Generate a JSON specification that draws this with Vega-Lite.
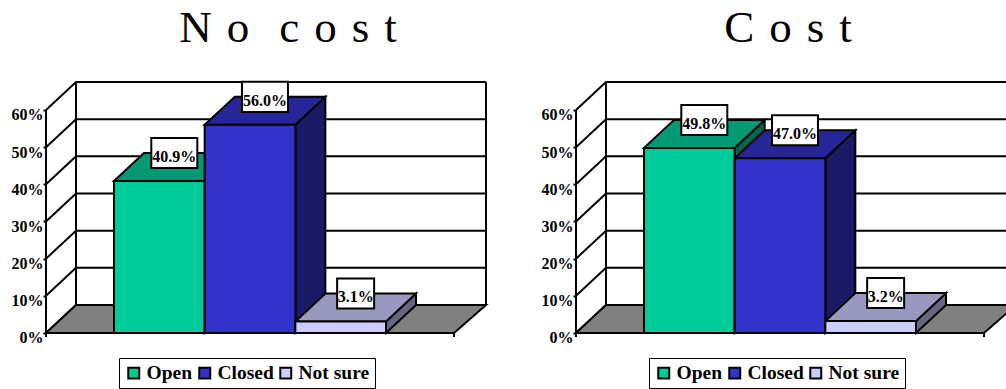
{
  "$schema": "https://vega.github.io/schema/vega-lite/v6.json",
  "padding": {"left": 11, "top": 0, "right": 0, "bottom": 0},
  "background": "white",
  "config": {"view": {"stroke": null}},
  "data": {"values": [
    {"panel": "No cost", "response": "Open", "share": 0.409},
    {"panel": "No cost", "response": "Closed", "share": 0.56},
    {"panel": "No cost", "response": "Not sure", "share": 0.031},
    {"panel": "Cost", "response": "Open", "share": 0.498},
    {"panel": "Cost", "response": "Closed", "share": 0.47},
    {"panel": "Cost", "response": "Not sure", "share": 0.032}
  ]},
  "transform": [
    {"calculate": "{'Open':0,'Closed':1,'Not sure':2}[datum.response]", "as": "slot"},
    {"calculate": "68+datum.slot*90.67", "as": "x0"},
    {"calculate": "datum.x0+90.67", "as": "x1"},
    {"calculate": "datum.x0+45.3+15", "as": "xc"},
    {"calculate": "datum.share+0.0753", "as": "labelY"},
    {"calculate": "datum.share>0.1?23:18.5", "as": "boxHalf"},
    {"calculate": "{'Open':'#009973','Closed':'#262699','Not sure':'#9999bf'}[datum.response]", "as": "topColor"},
    {"calculate": "{'Open':'#00664d','Closed':'#1a1a66','Not sure':'#666680'}[datum.response]", "as": "sideColor"}
  ],
  "facet": {"column": {"field": "panel", "type": "nominal", "sort": ["No cost", "Cost"], "header": null}},
  "spacing": 70,
  "bounds": "flush",
  "resolve": {"axis": {"y": "independent"}, "legend": {"fill": "independent"}},
  "spec": {
    "width": 460,
    "height": 389,
    "layer": [
      {
        "data": {"values": [{"level": 0}, {"level": 0.1}, {"level": 0.2}, {"level": 0.3}, {"level": 0.4}, {"level": 0.5}, {"level": 0.6}]},
        "transform": [
          {"calculate": "[0,1,2]", "as": "t"},
          {"flatten": ["t"]},
          {"calculate": "[0,30,440][datum.t]", "as": "wx"},
          {"calculate": "datum.t==0?datum.level:datum.level+0.0753", "as": "wy"}
        ],
        "mark": {"type": "line", "color": "black", "strokeWidth": 2, "strokeJoin": "miter"},
        "encoding": {
          "x": {"field": "wx", "type": "quantitative", "scale": {"domain": [0, 460], "nice": false, "zero": false}, "axis": null},
          "y": {
            "field": "wy", "type": "quantitative",
            "scale": {"domain": [-0.1507, 0.8959], "nice": false, "zero": false},
            "axis": {
              "values": [0, 0.1, 0.2, 0.3, 0.4, 0.5, 0.6], "format": ".0%", "title": null, "grid": false, "domain": false,
              "labelFont": "Liberation Serif", "labelFontWeight": "bold", "labelFontSize": 16, "labelColor": "black",
              "labelPadding": 0, "labelOffset": 5, "tickColor": "black", "tickWidth": 2, "tickSize": 3
            }
          },
          "detail": {"field": "level"}
        }
      },
      {
        "data": {"values": [{"edge": "front"}, {"edge": "back"}, {"edge": "right"}]},
        "transform": [
          {"calculate": "{'front':0,'back':30,'right':440}[datum.edge]", "as": "ex"},
          {"calculate": "datum.edge=='front'?0:0.0753", "as": "ey"},
          {"calculate": "datum.ey+0.6", "as": "ey2"}
        ],
        "mark": {"type": "rule", "color": "black", "strokeWidth": 2},
        "encoding": {
          "x": {"field": "ex", "type": "quantitative", "axis": null},
          "y": {"field": "ey", "type": "quantitative"},
          "y2": {"field": "ey2"}
        }
      },
      {
        "data": {"values": [{"t": 0}, {"t": 1}]},
        "transform": [
          {"calculate": "datum.t*30", "as": "fa"},
          {"calculate": "408+datum.t*32", "as": "fb"},
          {"calculate": "datum.t*0.0753", "as": "fy"}
        ],
        "mark": {"type": "area", "orient": "horizontal", "fill": "#808080", "stroke": "black", "strokeWidth": 2},
        "encoding": {
          "y": {"field": "fy", "type": "quantitative"},
          "x": {"field": "fa", "type": "quantitative", "axis": null},
          "x2": {"field": "fb"}
        }
      },
      {
        "data": {"values": [{"at": 0}, {"at": 408}]},
        "mark": {"type": "rule", "color": "black", "strokeWidth": 2},
        "encoding": {
          "x": {"field": "at", "type": "quantitative", "axis": null},
          "y": {"datum": 0},
          "y2": {"datum": -0.011}
        }
      },
      {
        "transform": [
          {"calculate": "[0,1]", "as": "t"},
          {"flatten": ["t"]},
          {"calculate": "datum.x1+datum.t*30", "as": "sx"},
          {"calculate": "datum.t*0.0753", "as": "sb"},
          {"calculate": "datum.share+datum.t*0.0753", "as": "st"}
        ],
        "mark": {"type": "area", "orient": "vertical", "stroke": "black", "strokeWidth": 2},
        "encoding": {
          "x": {"field": "sx", "type": "quantitative", "axis": null},
          "y": {"field": "st", "type": "quantitative"},
          "y2": {"field": "sb"},
          "color": {"field": "sideColor", "type": "nominal", "scale": null, "legend": null}
        }
      },
      {
        "transform": [
          {"calculate": "[0,1]", "as": "t"},
          {"flatten": ["t"]},
          {"calculate": "datum.x0+datum.t*30", "as": "ta"},
          {"calculate": "datum.x1+datum.t*30", "as": "tb"},
          {"calculate": "datum.share+datum.t*0.0753", "as": "ty"}
        ],
        "mark": {"type": "area", "orient": "horizontal", "stroke": "black", "strokeWidth": 2},
        "encoding": {
          "y": {"field": "ty", "type": "quantitative"},
          "x": {"field": "ta", "type": "quantitative", "axis": null},
          "x2": {"field": "tb"},
          "color": {"field": "topColor", "type": "nominal", "scale": null, "legend": null}
        }
      },
      {
        "mark": {"type": "rect", "stroke": "black", "strokeWidth": 2},
        "encoding": {
          "x": {"field": "x0", "type": "quantitative", "axis": null},
          "x2": {"field": "x1"},
          "y": {"field": "share", "type": "quantitative"},
          "y2": {"datum": 0},
          "fill": {
            "field": "response", "type": "nominal",
            "scale": {"domain": ["Open", "Closed", "Not sure"], "range": ["#00cc99", "#3333cc", "#ccccff"]},
            "legend": {
              "orient": "none", "legendX": 73, "legendY": 358, "direction": "horizontal", "columns": 3, "title": null,
              "strokeColor": "black", "fillColor": "white", "padding": 5,
              "encoding": {"legend": {"update": {"strokeWidth": {"value": 2}}}},
              "symbolType": "square", "symbolSize": 120, "symbolStrokeColor": "black", "symbolStrokeWidth": 2,
              "labelFont": "Liberation Serif", "labelFontWeight": "bold", "labelFontSize": 19.5, "labelColor": "black",
              "labelOffset": 3, "columnPadding": 2
            }
          }
        }
      },
      {
        "transform": [
          {"calculate": "datum.xc-datum.boxHalf", "as": "bx0"},
          {"calculate": "datum.xc+datum.boxHalf", "as": "bx1"},
          {"calculate": "datum.labelY-0.0404", "as": "by0"},
          {"calculate": "datum.labelY+0.0404", "as": "by1"}
        ],
        "mark": {"type": "rect", "fill": "white", "stroke": "black", "strokeWidth": 2},
        "encoding": {
          "x": {"field": "bx0", "type": "quantitative", "axis": null},
          "x2": {"field": "bx1"},
          "y": {"field": "by0", "type": "quantitative"},
          "y2": {"field": "by1"}
        }
      },
      {
        "mark": {"type": "text", "font": "Liberation Serif", "fontWeight": "bold", "fontSize": 16, "color": "black", "baseline": "middle", "align": "center", "dy": 4},
        "encoding": {
          "x": {"field": "xc", "type": "quantitative", "axis": null},
          "y": {"field": "labelY", "type": "quantitative"},
          "text": {"field": "share", "type": "quantitative", "format": ".1%"}
        }
      },
      {
        "transform": [
          {"filter": "datum.response=='Open'"},
          {"calculate": "datum.panel=='Cost'?'C\u2004o\u2004s\u2004t':'N\u2004o\u2004\u2004c\u2004o\u2004s\u2004t'", "as": "heading"},
          {"calculate": "datum.panel=='Cost'?212:242", "as": "hx"},
          {"calculate": "0.783", "as": "hy"}
        ],
        "mark": {"type": "text", "font": "Liberation Serif", "fontSize": 45, "color": "black", "baseline": "alphabetic", "align": "center"},
        "encoding": {
          "x": {"field": "hx", "type": "quantitative", "axis": null},
          "y": {"field": "hy", "type": "quantitative"},
          "text": {"field": "heading", "type": "nominal"}
        }
      }
    ]
  }
}
